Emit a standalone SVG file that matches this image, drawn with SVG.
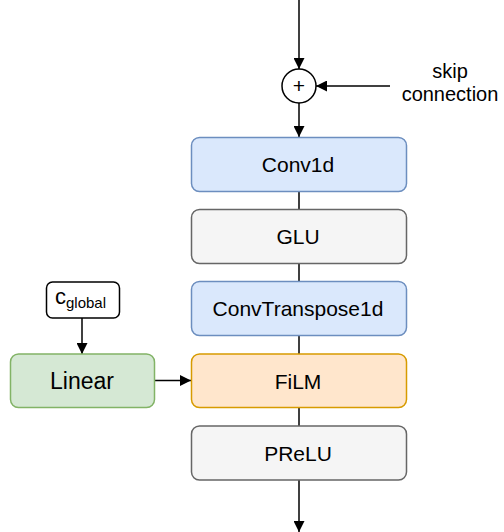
<svg xmlns="http://www.w3.org/2000/svg" width="504" height="532" viewBox="0 0 504 532">
  <style>
    text { font-family: "Liberation Sans", Arial, Helvetica, sans-serif; fill: #000; }
    .lbl { font-size: 21px; text-anchor: middle; dominant-baseline: central; }
    .blk { stroke-width: 1.5; }
    .blue { fill: #dae8fc; stroke: #6c8ebf; }
    .gray { fill: #f5f5f5; stroke: #666666; }
    .orange { fill: #ffe6cc; stroke: #d79b00; }
    .green { fill: #d5e8d4; stroke: #82b366; }
    .edge { stroke: #000; stroke-width: 1.5; fill: none; }
  </style>
  <defs>
    <marker id="arrow" viewBox="0 0 10 10" refX="10" refY="5" markerWidth="11" markerHeight="11" markerUnits="userSpaceOnUse" orient="auto">
      <path d="M0,0 L10,5 L0,10 Z" fill="#000"/>
    </marker>
  </defs>

  <g id="connectors">
    <line class="edge" x1="299" y1="0" x2="299" y2="69" marker-end="url(#arrow)"/>
    <line class="edge" x1="390" y1="86" x2="316" y2="86" marker-end="url(#arrow)"/>
    <line class="edge" x1="299" y1="103" x2="299" y2="137" marker-end="url(#arrow)"/>
    <line class="edge" x1="299" y1="192" x2="299" y2="209"/>
    <line class="edge" x1="299" y1="264" x2="299" y2="281.5"/>
    <line class="edge" x1="299" y1="336" x2="299" y2="354"/>
    <line class="edge" x1="299" y1="408" x2="299" y2="426"/>
    <line class="edge" x1="299" y1="480" x2="299" y2="532" marker-end="url(#arrow)"/>
    <line class="edge" x1="82" y1="318" x2="82" y2="354" marker-end="url(#arrow)"/>
    <line class="edge" x1="155" y1="380.5" x2="191" y2="380.5" marker-end="url(#arrow)"/>
  </g>

  <g id="sum">
    <circle cx="299" cy="86" r="17" fill="#fff" stroke="#000" stroke-width="1.5"/>
    <text x="299" y="93" style="font-size:21px;text-anchor:middle">+</text>
  </g>

  <g id="skip-label">
    <text x="450" y="78" style="font-size:20px;text-anchor:middle">skip</text>
    <text x="450" y="100.5" style="font-size:20px;text-anchor:middle">connection</text>
  </g>

  <g id="conv1d">
    <rect class="blk blue" x="191.5" y="137.5" width="215" height="54" rx="8"/>
    <text class="lbl" x="298" y="164.5">Conv1d</text>
  </g>

  <g id="glu">
    <rect class="blk gray" x="191.5" y="209.5" width="215" height="54" rx="8"/>
    <text class="lbl" x="298" y="236.5">GLU</text>
  </g>

  <g id="convtranspose1d">
    <rect class="blk blue" x="191.5" y="281.5" width="215" height="54" rx="8"/>
    <text class="lbl" x="298" y="308.5">ConvTranspose1d</text>
  </g>

  <g id="film">
    <rect class="blk orange" x="191.5" y="354" width="215" height="53.5" rx="8"/>
    <text class="lbl" x="298" y="381">FiLM</text>
  </g>

  <g id="prelu">
    <rect class="blk gray" x="191.5" y="426" width="215" height="54" rx="8"/>
    <text class="lbl" x="298" y="453">PReLU</text>
  </g>

  <g id="c-global">
    <rect x="46.5" y="282" width="73" height="36" rx="6" fill="#fff" stroke="#000" stroke-width="1.5"/>
    <text x="55" y="304" style="font-size:22px">c<tspan dy="4" style="font-size:15px">global</tspan></text>
  </g>

  <g id="linear">
    <rect class="blk green" x="10.5" y="354" width="144" height="53.5" rx="8"/>
    <text class="lbl" x="82" y="381" style="font-size:23px">Linear</text>
  </g>
</svg>
